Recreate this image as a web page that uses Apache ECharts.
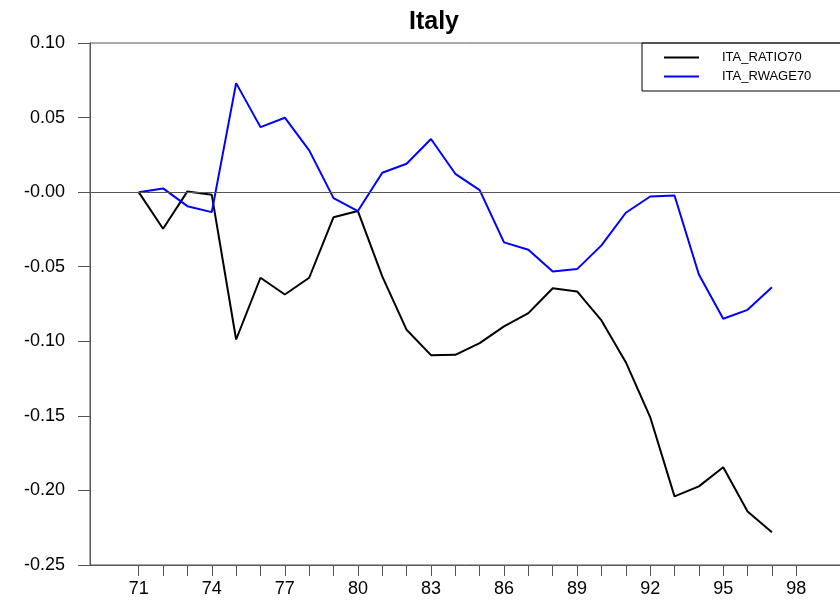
<!DOCTYPE html>
<html>
<head>
<meta charset="utf-8">
<script src="https://cdn.jsdelivr.net/npm/echarts@6/dist/echarts.min.js"></script>
<style>html,body{margin:0;padding:0;background:#fff;}#c{width:840px;height:600px;}</style>
</head>
<body>
<div id="c"></div>
<script>
const years = [71,72,73,74,75,76,77,78,79,80,81,82,83,84,85,86,87,88,89,90,91,92,93,94,95,96,97];
const ratio70 = [0.000,-0.0245,0.0005,-0.0018,-0.0988,-0.0574,-0.0686,-0.0574,-0.0168,-0.0127,-0.0565,-0.0923,-0.1093,-0.1091,-0.1012,-0.0900,-0.0811,-0.0644,-0.0666,-0.0860,-0.1140,-0.1508,-0.2040,-0.1973,-0.1844,-0.2141,-0.2280];
const rwage70 = [0.000,0.0025,-0.0094,-0.0134,0.0731,0.0436,0.0499,0.0280,-0.0040,-0.0127,0.0130,0.0190,0.0356,0.0123,0.0014,-0.0337,-0.0386,-0.0532,-0.0516,-0.0357,-0.0138,-0.0029,-0.0022,-0.0552,-0.0849,-0.0789,-0.0637];
const tickYears = [71,72,73,74,75,76,77,78,79,80,81,82,83,84,85,86,87,88,89,90,91,92,93,94,95,96,97,98];
const labelYears = [71,74,77,80,83,86,89,92,95,98];
const seriesNames = ['ITA_RATIO70','ITA_RWAGE70'];

const FONT = 'Liberation Sans, Arial, Helvetica, sans-serif';
const AXIS = '#555';
const LINE_ICON = 'path://M0,0 L35,0 L35,2 L0,2 Z';
const chart = echarts.init(document.getElementById('c'));
chart.setOption({
  animation: false,
  backgroundColor: '#fff',
  title: {
    text: 'Italy', left: 409, top: 10, padding: 0,
    textStyle: {fontFamily: FONT, fontSize: 25, fontWeight: 'bold', color: '#000'}
  },
  legend: {
    orient: 'vertical', left: 642, top: 43,
    padding: [8, 45, 8, 22],
    borderColor: '#000', borderWidth: 1,
    itemWidth: 35, itemHeight: 14, itemGap: 6,
    symbolKeepAspect: true,
    textStyle: {fontFamily: FONT, fontSize: 13, color: '#000', padding: [0,0,0,18]},
    data: seriesNames.map(n => ({name: n, icon: LINE_ICON}))
  },
  grid: {
    left: 90, right: -5, top: 43, bottom: 35,
    show: true, borderColor: AXIS, borderWidth: 1,
    containLabel: false, outerBoundsMode: 'none'
  },
  xAxis: {
    type: 'value', min: 69, max: 100, interval: 1,
    axisLine: {show: true, onZero: false, lineStyle: {color: AXIS, width: 1}},
    axisTick: {show: true, length: 11, customValues: tickYears, lineStyle: {color: AXIS}},
    axisLabel: {customValues: labelYears, margin: 15, fontFamily: FONT, fontSize: 18, color: '#000',
      formatter: v => String(v)},
    splitLine: {show: false}
  },
  yAxis: {
    type: 'value', min: -0.25, max: 0.10, interval: 0.05,
    axisLine: {show: true, lineStyle: {color: AXIS, width: 1}},
    axisTick: {show: true, length: 12, lineStyle: {color: AXIS}},
    axisLabel: {margin: 25, fontFamily: FONT, fontSize: 18, color: '#000',
      formatter: v => Math.abs(v) < 1e-9 ? '-0.00' : v.toFixed(2)},
    splitLine: {show: false}
  },
  series: [
    {
      name: seriesNames[0], type: 'line', symbol: 'none',
      data: years.map((y, i) => [y, ratio70[i]]),
      lineStyle: {color: '#000', width: 2}, itemStyle: {color: '#000'},
      markLine: {
        silent: true, symbol: 'none', label: {show: false},
        lineStyle: {color: AXIS, width: 1, type: 'solid'},
        data: [{yAxis: 0}]
      }
    },
    {
      name: seriesNames[1], type: 'line', symbol: 'none',
      data: years.map((y, i) => [y, rwage70[i]]),
      lineStyle: {color: '#0000ff', width: 2}, itemStyle: {color: '#0000ff'}
    }
  ]
});
</script>
</body>
</html>
